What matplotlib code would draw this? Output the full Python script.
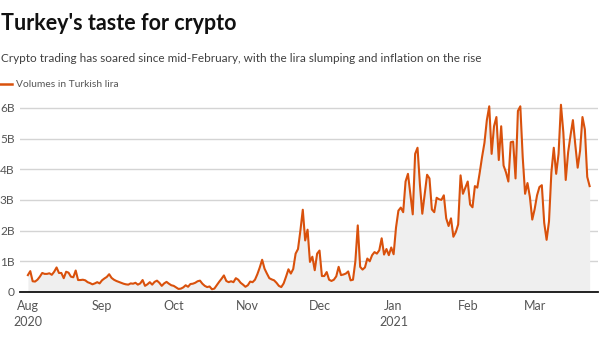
#!/usr/bin/env python3
"""Turkey's taste for crypto: daily crypto trading volume in Turkish lira."""

import matplotlib

matplotlib.use("Agg")
import matplotlib.dates as mdates
import matplotlib.pyplot as plt
import pandas as pd


START_DATE = "2020-08-01"

# Daily volume, billions of lira (Aug 1 2020 -> Mar 23 2021)
VOLUME_BN = [
    0.55, 0.68, 0.35, 0.34, 0.40, 0.50, 0.62, 0.59, 0.59, 0.61,
    0.56, 0.66, 0.80, 0.62, 0.62, 0.45, 0.66, 0.63, 0.50, 0.48,
    0.70, 0.39, 0.39, 0.40, 0.38, 0.32, 0.29, 0.25, 0.28, 0.32,
    0.28, 0.38, 0.44, 0.49, 0.58, 0.46, 0.40, 0.36, 0.33, 0.30,
    0.27, 0.25, 0.24, 0.28, 0.27, 0.30, 0.24, 0.28, 0.39, 0.20,
    0.25, 0.32, 0.24, 0.33, 0.37, 0.30, 0.20, 0.28, 0.33, 0.27,
    0.22, 0.20, 0.15, 0.10, 0.11, 0.15, 0.22, 0.17, 0.26, 0.27,
    0.30, 0.35, 0.37, 0.27, 0.20, 0.16, 0.18, 0.09, 0.11, 0.22,
    0.33, 0.43, 0.54, 0.36, 0.32, 0.35, 0.32, 0.45, 0.40, 0.30,
    0.24, 0.17, 0.22, 0.34, 0.32, 0.40, 0.58, 0.80, 1.05, 0.76,
    0.60, 0.45, 0.41, 0.38, 0.30, 0.20, 0.16, 0.28, 0.50, 0.74,
    0.60, 0.75, 1.25, 1.40, 2.00, 2.68, 1.68, 2.03, 0.98, 1.15,
    0.71, 1.25, 1.35, 0.52, 0.52, 0.65, 0.40, 0.36, 0.40, 0.51,
    0.82, 0.55, 0.57, 0.60, 0.67, 0.38, 0.40, 1.00, 2.17, 0.82,
    0.73, 0.80, 1.09, 1.00, 1.20, 1.30, 1.25, 1.36, 1.75, 1.22,
    1.40, 1.20, 1.45, 1.23, 2.10, 2.65, 2.75, 2.60, 3.60, 3.85,
    3.20, 2.53, 4.50, 4.70, 3.50, 2.55, 3.20, 3.82, 3.70, 2.69,
    2.60, 3.07, 3.02, 3.00, 3.15, 2.40, 2.15, 2.40, 1.80, 1.95,
    2.20, 3.80, 3.20, 3.40, 3.60, 2.85, 2.76, 3.45, 3.40, 3.88,
    4.40, 4.86, 5.60, 6.05, 4.50, 5.40, 5.70, 4.30, 5.40, 4.12,
    3.90, 3.60, 4.88, 4.90, 3.70, 5.90, 6.05, 4.40, 3.20, 3.55,
    3.10, 2.36, 2.70, 3.15, 3.42, 3.48, 2.25, 1.70, 2.30, 3.90,
    4.70, 3.85, 4.50, 6.10, 5.20, 3.65, 4.55, 5.10, 5.60, 4.80,
    4.05, 4.60, 5.70, 5.30, 3.75, 3.45,
]

MONTH_TICKS = ["2020-08-01", "2020-09-01", "2020-10-01", "2020-11-01",
               "2020-12-01", "2021-01-01", "2021-02-01", "2021-03-01"]
MONTH_LABELS = ["Aug\n2020", "Sep", "Oct", "Nov", "Dec", "Jan\n2021", "Feb", "Mar"]
Y_TICKS = [0, 1, 2, 3, 4, 5, 6]
Y_LABELS = ["0", "1B", "2B", "3B", "4B", "5B", "6B"]

TITLE = "Turkey's taste for crypto"
SUBTITLE = "Crypto trading has soared since mid-February, with the lira slumping and inflation on the rise"
SERIES_LABEL = "Volumes in Turkish lira"

LINE_COLOR = "#d9510c"
FILL_COLOR = "#efefef"
GRID_COLOR = "#d4d4d4"
TEXT_GRAY = "#555555"

W, H = 600, 337


def main() -> None:
    plt.rcParams["font.family"] = ["Lato", "DejaVu Sans"]
    dates = pd.date_range(START_DATE, periods=len(VOLUME_BN), freq="D")

    fig = plt.figure(figsize=(W / 100, H / 100), dpi=100)
    ax = fig.add_axes([20 / W, 1 - 292 / H, 578 / W, (292 - 101.7) / H])

    ax.fill_between(dates, VOLUME_BN, 0, color=FILL_COLOR, linewidth=0, zorder=1)
    ax.plot(dates, VOLUME_BN, color=LINE_COLOR, linewidth=1.5, zorder=3)

    ax.set_ylim(0, 6.2)
    x0 = pd.Timestamp(START_DATE)
    ax.set_xlim(x0 - pd.Timedelta(days=3.3), x0 + pd.Timedelta(days=238.5))

    ax.set_yticks(Y_TICKS)
    ax.set_yticklabels(Y_LABELS)
    ax.set_xticks([mdates.date2num(pd.Timestamp(d)) for d in MONTH_TICKS])
    ax.set_xticklabels(MONTH_LABELS, linespacing=1.35)
    ax.tick_params(axis="both", length=0, colors=TEXT_GRAY)
    ax.tick_params(axis="y", pad=4, labelsize=8.6)
    ax.tick_params(axis="x", pad=6, labelsize=9)

    ax.grid(axis="y", color=GRID_COLOR, linewidth=1.0, zorder=0)
    ax.set_axisbelow(True)
    for side in ("top", "right", "left"):
        ax.spines[side].set_visible(False)
    ax.spines["bottom"].set_color("#111111")
    ax.spines["bottom"].set_linewidth(1.3)
    ax.spines["bottom"].set_zorder(4)

    fig.text(1 / W, 1 - 30 / H, TITLE, fontsize=15.5, fontweight="bold",
             color="#111111", va="baseline", ha="left")
    fig.text(1 / W, 1 - 62 / H, SUBTITLE, fontsize=8.5, color="#404040",
             va="baseline", ha="left")
    fig.add_artist(plt.Line2D([0, 12 / W], [1 - 84 / H] * 2, color=LINE_COLOR,
                              linewidth=1.8, transform=fig.transFigure))
    fig.text(16 / W, 1 - 85 / H, SERIES_LABEL, fontsize=7.4, color=TEXT_GRAY,
             va="center", ha="left")

    fig.savefig("out.png", dpi=100)
    plt.close(fig)


if __name__ == "__main__":
    main()
